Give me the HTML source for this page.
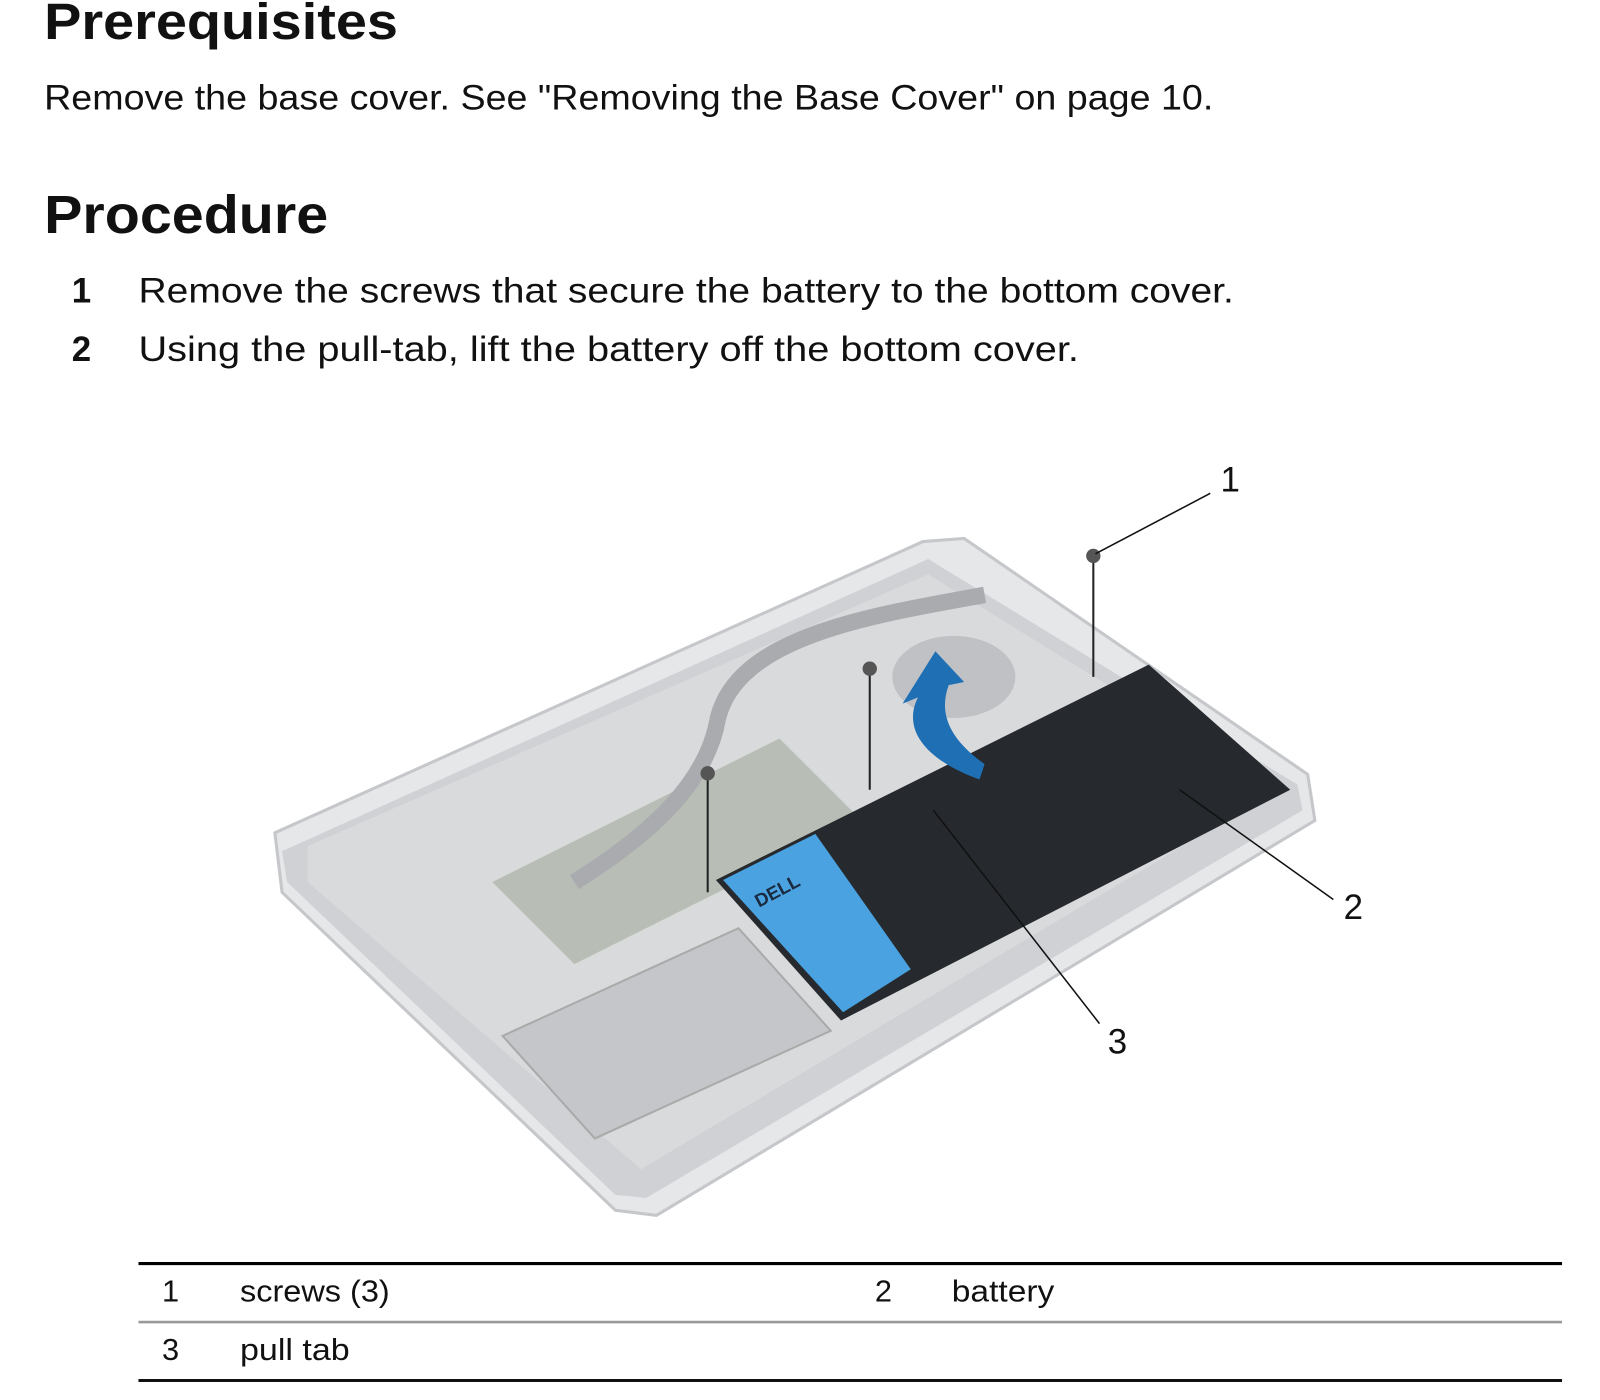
<!DOCTYPE html>
<html><head><meta charset="utf-8"><style>
html,body{margin:0;padding:0;background:#fff;}
svg{display:block;}
text{font-family:"Liberation Sans",sans-serif;fill:#111;}
</style></head><body>
<svg width="1600" height="1400" viewBox="0 0 1560 1365" preserveAspectRatio="none" xmlns="http://www.w3.org/2000/svg">
<text x="43" y="38" font-size="50" font-weight="bold" textLength="345" lengthAdjust="spacingAndGlyphs">Prerequisites</text>
<text x="43" y="107" font-size="34" textLength="1140" lengthAdjust="spacingAndGlyphs">Remove the base cover. See "Removing the Base Cover" on page 10.</text>
<text x="43" y="227" font-size="52" font-weight="bold" textLength="277" lengthAdjust="spacingAndGlyphs">Procedure</text>
<text x="70" y="295" font-size="34" font-weight="bold">1</text>
<text x="135" y="295" font-size="34" textLength="1068" lengthAdjust="spacingAndGlyphs">Remove the screws that secure the battery to the bottom cover.</text>
<text x="70" y="352" font-size="34" font-weight="bold">2</text>
<text x="135" y="352" font-size="34" textLength="917" lengthAdjust="spacingAndGlyphs">Using the pull-tab, lift the battery off the bottom cover.</text>

<!-- laptop -->
<polygon points="268,812 900,528 940,525 1275,755 1282,800 640,1185 600,1180 275,870" fill="#e6e7e9" stroke="#c5c7ca" stroke-width="3"/>
<polygon points="275,830 905,545 1265,765 1270,790 630,1168 600,1165 280,860" fill="#cfd1d4"/>
<polygon points="300,825 905,560 1245,770 625,1140 300,860" fill="#d9dadc"/>
<polygon points="490,1010 720,905 810,1005 580,1110" fill="#c4c6c9" stroke="#aaa" stroke-width="2"/>
<polygon points="480,860 760,720 840,800 560,940" fill="#b8bdb5"/>
<path d="M560,860 C640,810 690,760 700,700 C720,620 850,600 960,580" stroke="#a9abae" stroke-width="16" fill="none"/>
<ellipse cx="930" cy="660" rx="60" ry="40" fill="#bfc1c4"/>
<!-- battery -->
<polygon points="698,858 1120,648 1258,770 820,995" fill="#26292d"/>
<polygon points="705,858 795,813 888,945 822,987" fill="#4aa3e0"/>
<text x="740" y="885" font-size="18" font-weight="bold" transform="rotate(-28 740 885)" style="fill:#1a2a40">DELL</text>
<!-- arrow -->
<path d="M955,760 C900,740 880,710 895,680 L880,686 L912,635 L940,665 L925,668 C915,695 925,720 960,745 Z" fill="#1f6fb5"/>
<!-- screws -->
<line x1="1066" y1="545" x2="1066" y2="660" stroke="#222" stroke-width="2"/>
<circle cx="1066" cy="542" r="7" fill="#555"/>
<line x1="848" y1="655" x2="848" y2="770" stroke="#222" stroke-width="2"/>
<circle cx="848" cy="652" r="7" fill="#555"/>
<line x1="690" y1="757" x2="690" y2="870" stroke="#222" stroke-width="2"/>
<circle cx="690" cy="754" r="7" fill="#555"/>
<!-- callouts -->
<line x1="1068" y1="540" x2="1180" y2="481" stroke="#111" stroke-width="1.5"/>
<text x="1190" y="479" font-size="34">1</text>
<line x1="1150" y1="770" x2="1300" y2="877" stroke="#111" stroke-width="1.5"/>
<text x="1310" y="896" font-size="34">2</text>
<line x1="910" y1="790" x2="1072" y2="998" stroke="#111" stroke-width="1.5"/>
<text x="1080" y="1027" font-size="34">3</text>

<!-- table -->
<line x1="135" y1="1232" x2="1523" y2="1232" stroke="#000" stroke-width="3"/>
<line x1="135" y1="1289" x2="1523" y2="1289" stroke="#999" stroke-width="2.5"/>
<line x1="135" y1="1346" x2="1523" y2="1346" stroke="#111" stroke-width="3"/>
<text x="158" y="1269" font-size="30">1</text>
<text x="234" y="1269" font-size="30" textLength="146" lengthAdjust="spacingAndGlyphs">screws (3)</text>
<text x="853" y="1269" font-size="30">2</text>
<text x="928" y="1269" font-size="30" textLength="100" lengthAdjust="spacingAndGlyphs">battery</text>
<text x="158" y="1326" font-size="30">3</text>
<text x="234" y="1326" font-size="30" textLength="107" lengthAdjust="spacingAndGlyphs">pull tab</text>
</svg>
</body></html>
